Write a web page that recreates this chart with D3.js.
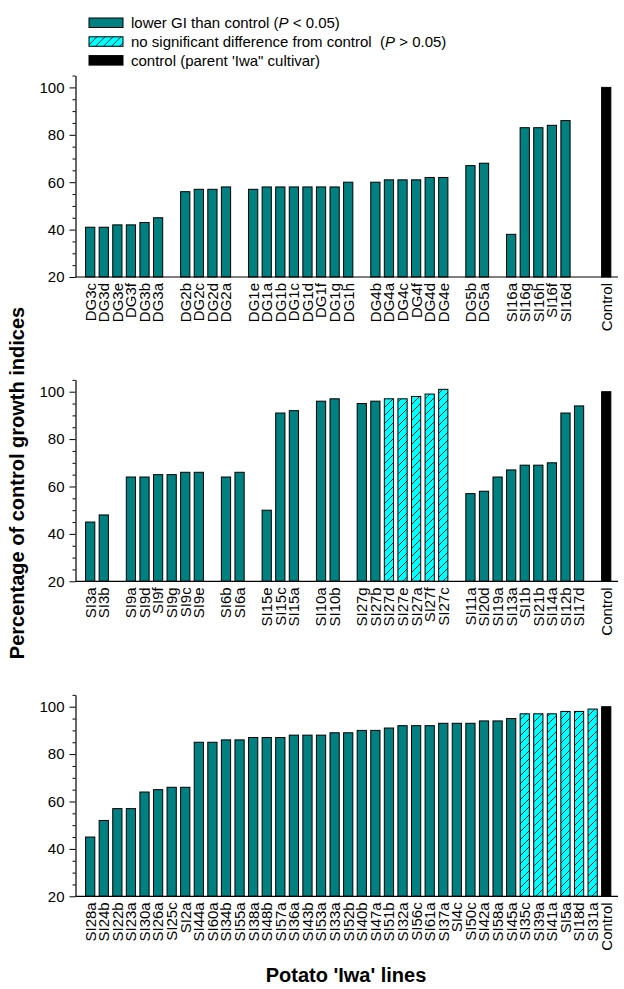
<!DOCTYPE html>
<html>
<head>
<meta charset="utf-8">
<script src="https://cdn.jsdelivr.net/npm/d3@7"></script>
<style>
  body { margin: 0; background: #fff; }
  svg { display: block; font-family: Arial, "Liberation Sans", sans-serif; }
</style>
</head>
<body>
<svg id="chart" width="624" height="989"></svg>
<script>
// panel 1: DG lines + SI16
var panel1Groups = [
  ["DG3c", "DG3d", "DG3e", "DG3f", "DG3b", "DG3a"],
  ["DG2b", "DG2c", "DG2d", "DG2a"],
  ["DG1e", "DG1a", "DG1b", "DG1c", "DG1d", "DG1f", "DG1g", "DG1h"],
  ["DG4b", "DG4a", "DG4c", "DG4f", "DG4d", "DG4e"],
  ["DG5b", "DG5a"],
  ["SI16a", "SI16g", "SI16h", "SI16f", "SI16d"]
];
var panel1Values = [
  [41, 41, 42, 42, 43, 45],
  [56, 57, 57, 58],
  [57, 58, 58, 58, 58, 58, 58, 60],
  [60, 61, 61, 61, 62, 62],
  [67, 68],
  [38, 83, 83, 84, 86]
];

// panel 2
var panel2Groups = [
  ["SI3a", "SI3b"],
  ["SI9a", "SI9d", "SI9f", "SI9g", "SI9c", "SI9e"],
  ["SI6b", "SI6a"],
  ["SI15e", "SI15c", "SI15a"],
  ["SI10a", "SI10b"],
  ["SI27g", "SI27b", "SI27d", "SI27e", "SI27a", "SI27f", "SI27c"],
  ["SI11a", "SI20d", "SI19a", "SI13a", "SI1b", "SI21b", "SI14a", "SI12b", "SI17d"]
];
var panel2Values = [
  [45, 48],
  [64, 64, 65, 65, 66, 66],
  [64, 66],
  [50, 91, 92],
  [96, 97],
  [95, 96, 97, 97, 98, 99, 101],
  [57, 58, 64, 67, 69, 69, 70, 91, 94]
];

// panel 3
var panel3Groups = [
  ["SI28a", "SI24b", "SI22b", "SI23a", "SI30a", "SI26a", "SI25c", "SI2a",
   "SI44a", "SI60a", "SI34b", "SI55a", "SI38a", "SI48b", "SI57a", "SI36a",
   "SI43b", "SI53a", "SI33a", "SI52b", "SI40b", "SI47a", "SI51b", "SI32a",
   "SI56c", "SI61a", "SI37a", "SI4c", "SI50c", "SI42a", "SI58a", "SI45a",
   "SI35c", "SI39a", "SI41a", "SI5a", "SI18d", "SI31a"]
];
var panel3Values = [
  [45, 52, 57, 57, 64, 65, 66, 66,
   85, 85, 86, 86, 87, 87, 87, 88,
   88, 88, 89, 89, 90, 90, 91, 92,
   92, 92, 93, 93, 93, 94, 94, 95,
   97, 97, 97, 98, 98, 99]
];

var controlLabel = "Control";
var controlValue = 100;

// lines not different from control (hatched)
var notSignificant = ["SI27d", "SI27e", "SI27a", "SI27f", "SI27c",
  "SI35c", "SI39a", "SI41a", "SI5a", "SI18d", "SI31a"];

var legendLabels = [
  ["lower GI than control (", "P", " < 0.05)"],
  ["no significant difference from control  (", "P", " > 0.05)"],
  ["control (parent 'Iwa\" cultivar)", "", ""]
];

var majorTicks = [20, 40, 60, 80, 100];
var minorTicks = [25, 30, 35, 45, 50, 55, 65, 70, 75, 85, 90, 95, 105];
var nSlots = 39;

var teal = "#008080";
var cyan = "#00ffff";

var svg = d3.select("#chart");

var defs = svg.append("defs");
var pattern = defs
  .append("pattern")
  .attr("id", "hatch")
  .attr("patternUnits", "userSpaceOnUse")
  .attr("width", 8)
  .attr("height", 8);
pattern.append("rect").attr("width", 8).attr("height", 8).attr("fill", cyan);
pattern
  .append("path")
  .attr("d", "M0,8 L8,0 M-2,2 L2,-2 M6,10 L10,6")
  .attr("stroke", "#000")
  .attr("stroke-width", 0.8);

function fillFor(name) {
  if (name === controlLabel) return "#000";
  if (notSignificant.indexOf(name) >= 0) return "url(#hatch)";
  return teal;
}

// turn the groups into slots with one empty slot between groups,
// the control always sits in the last slot
function buildSlots(groups, values) {
  var slots = [];
  var bars = [];
  groups.forEach(function (g, gi) {
    if (gi > 0) slots.push("gap" + gi);
    g.forEach(function (name, i) {
      slots.push(name);
      bars.push({ name: name, value: values[gi][i] });
    });
  });
  var k = 0;
  while (slots.length < nSlots - 1) {
    slots.push("end" + k++);
  }
  slots.push(controlLabel);
  bars.push({ name: controlLabel, value: controlValue });
  return { slots: slots, bars: bars };
}

var panels = [
  { groups: panel1Groups, values: panel1Values, base: 277 },
  { groups: panel2Groups, values: panel2Values, base: 581.3 },
  { groups: panel3Groups, values: panel3Values, base: 896.3 }
];

var axisX = 75.5;
var axisEnd = 618;
var bandStart = 83.4;
var step = 13.58;
var unit = 2.37;

panels.forEach(function (p) {
  var data = buildSlots(p.groups, p.values);

  var x = d3
    .scaleBand()
    .domain(data.slots)
    .range([bandStart, bandStart + step * nSlots])
    .paddingInner(0.32)
    .paddingOuter(0.16);

  var y = d3
    .scaleLinear()
    .domain([20, 105])
    .range([p.base, p.base - 85 * unit]);

  var g = svg.append("g");

  g.append("g")
    .selectAll("rect")
    .data(data.bars)
    .enter()
    .append("rect")
    .attr("x", function (d) {
      return x(d.name);
    })
    .attr("y", function (d) {
      return y(d.value);
    })
    .attr("width", x.bandwidth())
    .attr("height", function (d) {
      return y(20) - y(d.value);
    })
    .attr("fill", function (d) {
      return fillFor(d.name);
    })
    .attr("stroke", "#000")
    .attr("stroke-width", 1);

  // y axis, major and minor ticks
  var yAxis = g
    .append("g")
    .attr("transform", "translate(" + axisX + ",0)")
    .call(
      d3
        .axisLeft(y)
        .tickValues(majorTicks)
        .tickSize(6)
        .tickSizeOuter(0)
        .tickPadding(5)
        .tickFormat(d3.format("d"))
    );
  yAxis.selectAll("text").attr("font-size", "15px").attr("font-family", "Arial, 'Liberation Sans', sans-serif").attr("fill", "#000");
  yAxis.select(".domain").attr("stroke-width", 1.2);

  g.append("g")
    .attr("transform", "translate(" + axisX + ",0)")
    .call(d3.axisLeft(y).tickValues(minorTicks).tickSize(3).tickFormat(""))
    .select(".domain")
    .remove();

  // x axis baseline
  g.append("line")
    .attr("x1", axisX)
    .attr("x2", axisEnd)
    .attr("y1", y(20))
    .attr("y2", y(20))
    .attr("stroke", "#000")
    .attr("stroke-width", 1.2);

  // rotated category labels
  g.append("g")
    .selectAll("text")
    .data(data.bars)
    .enter()
    .append("text")
    .attr("transform", function (d) {
      return "translate(" + (x(d.name) + x.bandwidth() / 2) + "," + (y(20) + 6) + ") rotate(-90)";
    })
    .attr("dy", "0.36em")
    .attr("text-anchor", "end")
    .attr("font-size", "15px")
    .attr("fill", "#000")
    .text(function (d) {
      return d.name;
    });
});

// legend
var legendFills = [teal, "url(#hatch)", "#000"];
var legend = svg
  .append("g")
  .selectAll("g")
  .data(legendLabels)
  .enter()
  .append("g")
  .attr("transform", function (d, i) {
    return "translate(89," + (18 + i * 18.8) + ")";
  });

legend
  .append("rect")
  .attr("width", 34)
  .attr("height", 9.5)
  .attr("fill", function (d, i) {
    return legendFills[i];
  })
  .attr("stroke", "#000")
  .attr("stroke-width", 1);

var legendText = legend
  .append("text")
  .attr("x", 42)
  .attr("y", 5)
  .attr("dy", "0.36em")
  .attr("font-size", "15px")
  .attr("fill", "#000")
  .style("white-space", "pre");
legendText.append("tspan").text(function (d) {
  return d[0];
});
legendText
  .append("tspan")
  .attr("font-style", "italic")
  .text(function (d) {
    return d[1];
  });
legendText.append("tspan").text(function (d) {
  return d[2];
});

// axis titles
svg
  .append("text")
  .attr("transform", "translate(24.3,483) rotate(-90)")
  .attr("text-anchor", "middle")
  .attr("font-size", "20px")
  .attr("font-weight", "bold")
  .text("Percentage of control growth indices");

svg
  .append("text")
  .attr("x", 346)
  .attr("y", 982)
  .attr("text-anchor", "middle")
  .attr("font-size", "20px")
  .attr("font-weight", "bold")
  .text("Potato 'Iwa' lines");
</script>
</body>
</html>
